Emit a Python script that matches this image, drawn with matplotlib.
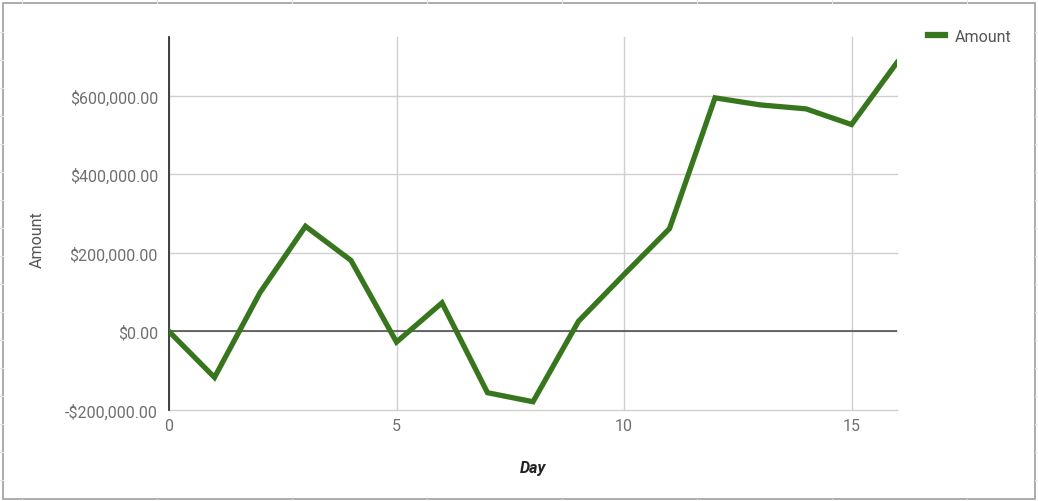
import matplotlib
matplotlib.use("Agg")
import matplotlib.pyplot as plt
from matplotlib.lines import Line2D
from matplotlib.ticker import FuncFormatter, FixedLocator

days = list(range(17))
amount = [0, -117000, 99000, 268000, 181000, -27000, 73000, -156000, -179000,
          26000, 145000, 262000, 595000, 577000, 567000, 527000, 685000]
y_ticks = [-200000, 0, 200000, 400000, 600000]
x_ticks = [0, 5, 10, 15]
series_name = "Amount"
x_label = "Day"
y_label = "Amount"

plt.rcParams['font.family'] = ['Roboto', 'DejaVu Sans']

W, H = 1038, 502
fig = plt.figure(figsize=(W / 100, H / 100), dpi=100)
fig.patch.set_facecolor("white")

def fx(px):
    return px / W

def fy(py):
    return 1 - py / H

# spreadsheet cells outside chart border
cell = "#e4e4e4"
for x in [22, 157, 292, 427, 562, 697, 832, 967]:
    fig.add_artist(Line2D([fx(x), fx(x)], [fy(0), fy(4)], color=cell, lw=0.8))
    fig.add_artist(Line2D([fx(x), fx(x)], [fy(500), fy(502)], color=cell, lw=0.8))
for y in range(33, 500, 28):
    fig.add_artist(Line2D([fx(0), fx(3)], [fy(y), fy(y)], color=cell, lw=0.8))
    fig.add_artist(Line2D([fx(1035), fx(1038)], [fy(y), fy(y)], color=cell, lw=0.8))
# chart border
fig.add_artist(plt.Rectangle((fx(3), fy(500)), fx(1035) - fx(3), fy(4) - fy(500),
                             fill=False, edgecolor="#9e9e9e", lw=1.2))

ax = fig.add_axes([fx(169), fy(411), fx(897) - fx(169), fy(38) - fy(411)])
ax.set_xlim(0, 16)
ax.set_ylim(-200000, 750000)

ax.xaxis.set_major_locator(FixedLocator(x_ticks))
ax.yaxis.set_major_locator(FixedLocator(y_ticks))

def money(v, pos):
    s = "${:,.2f}".format(abs(v))
    return "-" + s if v < 0 else s

ax.yaxis.set_major_formatter(FuncFormatter(money))

for s in ax.spines.values():
    s.set_visible(False)
ax.spines['left'].set_visible(True)
ax.spines['left'].set_color("#333333")
ax.spines['left'].set_linewidth(1.3)
ax.spines['left'].set_zorder(2.5)

ax.grid(True, color="#d0d0d0", lw=1.0)
for gl in ax.get_xgridlines() + ax.get_ygridlines():
    gl.set_clip_on(False)
ax.set_axisbelow(True)
ax.axhline(0, color="#444444", lw=1.1, zorder=1.5)

ax.tick_params(axis="both", length=0, labelsize=11.5, labelcolor="#6f6f6f")
ax.tick_params(axis="y", pad=8)
ax.tick_params(axis="x", pad=6)

ax.plot(days, amount, color="#38761d", lw=3.8, label=series_name, zorder=3,
        solid_joinstyle="miter")

ax.set_xlabel(x_label, fontsize=11.5, fontweight="bold", fontstyle="italic",
              color="#222222", labelpad=19)
fig.text(fx(37), fy(240), y_label, rotation=90, ha="center", va="center",
         fontsize=11.5, color="#555555")

leg = fig.legend(handles=[Line2D([0], [0], color="#38761d", lw=4.5)],
                 labels=[series_name], loc="center left",
                 bbox_to_anchor=(fx(928), fy(37)), frameon=False,
                 fontsize=11.5, handlelength=1.05, handletextpad=0.6,
                 borderpad=0, borderaxespad=0)
for t in leg.get_texts():
    t.set_color("#555555")

fig.savefig("out.png", dpi=100)
